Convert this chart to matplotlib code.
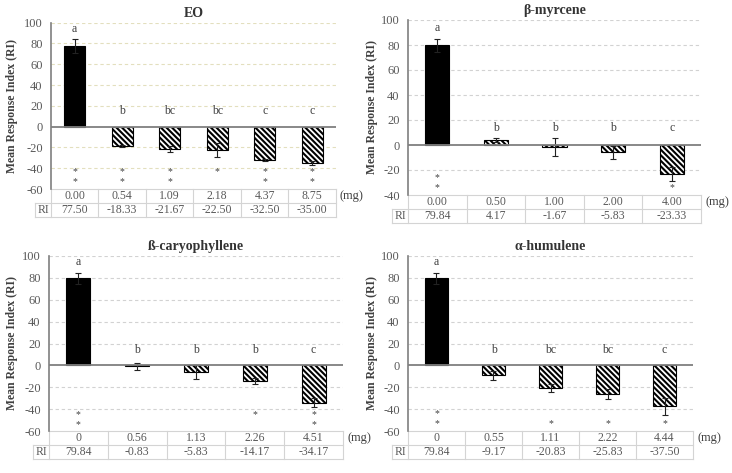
import matplotlib
matplotlib.use("Agg")
import matplotlib.pyplot as plt
import numpy as np

plt.rcParams['font.family'] = ['Liberation Serif', 'DejaVu Serif']
plt.rcParams['hatch.linewidth'] = 1.5

# ---------------- data ----------------
eo_doses = ["0.00", "0.54", "1.09", "2.18", "4.37", "8.75"]
eo_ri = [77.50, -18.33, -21.67, -22.50, -32.50, -35.00]
eo_err = [7.0, 1.0, 3.0, 6.5, 1.0, 2.0]
eo_letters = ["a", "b", "bc", "bc", "c", "c"]
eo_stars = [(0, 1), (0, 1), (0, 1), (0,), (0, 1), (0, 1)]

my_doses = ["0.00", "0.50", "1.00", "2.00", "4.00"]
my_ri = [79.84, 4.17, -1.67, -5.83, -23.33]
my_err = [5.3, 1.8, 7.0, 5.0, 5.5]
my_letters = ["a", "b", "b", "b", "c"]
my_stars = [(0, 1), (), (), (), (1,)]

ca_doses = ["0", "0.56", "1.13", "2.26", "4.51"]
ca_ri = [79.84, -0.83, -5.83, -14.17, -34.17]
ca_err = [5.0, 3.0, 6.5, 3.0, 4.0]
ca_letters = ["a", "b", "b", "b", "c"]
ca_stars = [(0, 1), (), (), (0,), (0, 1)]

hu_doses = ["0", "0.55", "1.11", "2.22", "4.44"]
hu_ri = [79.84, -9.17, -20.83, -25.83, -37.50]
hu_err = [5.0, 4.0, 3.5, 4.5, 8.0]
hu_letters = ["a", "b", "bc", "bc", "c"]
hu_stars = [(0, 1), (), (1,), (1,), (1,)]

panels = [
    dict(title="EO", doses=eo_doses, ri=eo_ri, err=eo_err, letters=eo_letters, stars=eo_stars,
         rect_px=(51, 22.7, 336, 189), ylim=(-60, 100), star_y=(-43, -53), grid="#e3dfbe",
         width=0.45, label_px=18),
    dict(title="β-myrcene", doses=my_doses, ri=my_ri, err=my_err, letters=my_letters, stars=my_stars,
         rect_px=(408, 20, 701, 195), ylim=(-40, 100), star_y=(-26, -34), grid="#d2d2d2",
         width=0.41, label_px=378),
    dict(title="ß-caryophyllene", doses=ca_doses, ri=ca_ri, err=ca_err, letters=ca_letters, stars=ca_stars,
         rect_px=(49, 256, 343, 431), ylim=(-60, 100), star_y=(-45, -54), grid="#d2d2d2",
         width=0.41, label_px=18),
    dict(title="α-humulene", doses=hu_doses, ri=hu_ri, err=hu_err, letters=hu_letters, stars=hu_stars,
         rect_px=(408, 256, 693, 431), ylim=(-60, 100), star_y=(-44, -53), grid="#d2d2d2",
         width=0.41, label_px=378),
]

W, H = 732, 473
fig = plt.figure(figsize=(W / 100, H / 100), dpi=100)

tick_col = "#595959"
tab_col = "#d4d4d4"

for p in panels:
    x0, y0, x1, y1 = p["rect_px"]
    axw, axh = x1 - x0, y1 - y0
    ax = fig.add_axes([x0 / W, 1 - y1 / H, axw / W, axh / H])
    n = len(p["ri"])
    x = np.arange(n)
    ri = np.array(p["ri"])
    err = np.array(p["err"])

    colors = ["black"] + ["white"] * (n - 1)
    hatches = [None] + ["\\" * 6] * (n - 1)
    for i in range(n):
        ax.bar(x[i], ri[i], width=p["width"], color=colors[i], edgecolor="black",
               hatch=hatches[i], linewidth=0.8, zorder=3)
    ax.errorbar(x, ri, yerr=err, fmt="none", ecolor="#222222", elinewidth=0.8,
                capsize=2.2, capthick=0.8, zorder=4)

    ymin, ymax = p["ylim"]
    ax.set_xlim(-0.5, n - 0.5)
    ax.set_ylim(ymin, ymax)
    ticks = np.arange(ymin, ymax + 1, 20)
    ax.set_yticks(ticks)
    ax.set_yticklabels([f"{t:d}" for t in ticks], color=tick_col, fontsize=9)
    ax.tick_params(axis="y", length=0, pad=6)
    ax.set_xticks([])
    for t in ticks:
        if t != 0 and t != ymin:
            ax.axhline(t, color=p["grid"], lw=0.8, ls=(0, (3, 2.5)), zorder=1)
    ax.axhline(0, color="#7f7f7f", lw=1.3, zorder=5)
    for s in ["top", "right", "bottom"]:
        ax.spines[s].set_visible(False)
    ax.spines["left"].set_color("#7f7f7f")
    ax.spines["left"].set_linewidth(1.2)

    ax.set_title(p["title"], fontsize=10, fontweight="bold", color="#333333", pad=4)
    ax.set_ylabel("Mean Response Index (RI)", fontsize=8.5, fontweight="bold", color="#404040")
    ax.yaxis.set_label_coords(-(x0 - p["label_px"]) / axw, 0.5)

    # significance letters
    for i in range(n):
        top = ri[i] + err[i]
        ly = top + 4 if top > 20 else 9
        ax.text(x[i], ly, p["letters"][i], ha="center", va="bottom", fontsize=8.5, color="#404040")
    # stars
    for i in range(n):
        for k in p["stars"][i]:
            ax.text(x[i], p["star_y"][k], "*", ha="center", va="center", fontsize=7, color="#404040")

    # table under the axes (axes-fraction coordinates)
    rh = 14 / axh
    riw = 16 / axw
    tr = ax.transAxes
    kw = dict(transform=tr, clip_on=False, color=tab_col, lw=0.8)
    ax.plot([0, 1], [0, 0], **kw)
    ax.plot([-riw, 1], [-rh, -rh], **kw)
    ax.plot([-riw, 1], [-2 * rh, -2 * rh], **kw)
    ax.plot([-riw, -riw], [-rh, -2 * rh], **kw)
    for j in range(n + 1):
        xf = j / n
        ax.plot([xf, xf], [0, -2 * rh], **kw)
    for i in range(n):
        xc = (i + 0.5) / n
        ax.text(xc, -0.5 * rh, p["doses"][i], transform=tr, ha="center", va="center",
                fontsize=8.5, color=tick_col)
        ax.text(xc, -1.5 * rh, f"{ri[i]:.2f}", transform=tr, ha="center", va="center",
                fontsize=8.5, color=tick_col)
    ax.text(-riw / 2, -1.5 * rh, "RI", transform=tr, ha="center", va="center",
            fontsize=8.5, color=tick_col)
    ax.text(1 + 4 / axw, -0.5 * rh, "(mg)", transform=tr, ha="left", va="center",
            fontsize=9, color="#404040")

fig.savefig("out.png", dpi=100)
